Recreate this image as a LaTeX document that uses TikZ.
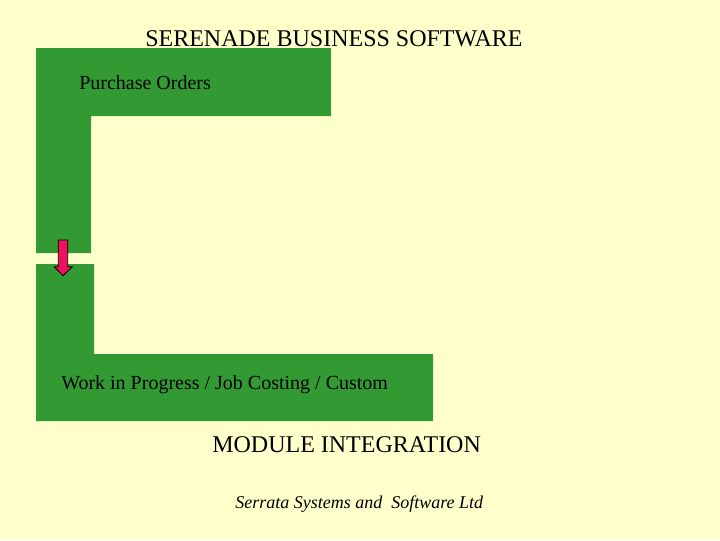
\documentclass[tikz,border=0pt]{standalone}
\usepackage{fontspec}
\setmainfont{Liberation Serif}
\definecolor{bgyellow}{RGB}{255,255,204}
\definecolor{leafgreen}{RGB}{51,153,51}
\definecolor{arrowred}{RGB}{240,16,96}
\tikzset{
  greenshape/.style={fill=leafgreen, draw=none},
  lbl/.style={anchor=base west, inner sep=0pt, text=black},
}
\begin{document}
\begin{tikzpicture}[x=0.75pt, y=-0.75pt]
\fill[bgyellow] (0,0) rectangle (720,540);
\useasboundingbox (0,0) rectangle (720,540);
% top L shape
\fill[greenshape] (36,48) -- (331,48) -- (331,116) -- (91,116) -- (91,253) -- (36,253) -- cycle;
% bottom L shape
\fill[greenshape] (36,264) -- (94,264) -- (94,354) -- (433,354) -- (433,421) -- (36,421) -- cycle;
% block arrow
\draw[fill=arrowred, draw=black, line width=0.6pt] (58.3,240) -- (67.7,240) -- (67.7,266.7) -- (72.3,266.7) -- (63,275.7) -- (54.3,266.7) -- (58.3,266.7) -- cycle;
\node[lbl, font=\fontsize{18}{21}\selectfont] (title) at (145,46) {SERENADE BUSINESS SOFTWARE};
\node[lbl, font=\fontsize{15}{18}\selectfont] (po) at (79,89) {Purchase Orders};
\node[lbl, font=\fontsize{15}{18}\selectfont] (wip) at (61,389) {Work in Progress / Job Costing / Custom};
\node[lbl, font=\fontsize{18}{21}\selectfont] (mi) at (212,452) {MODULE INTEGRATION};
\node[lbl, font=\itshape\fontsize{13.5}{16}\selectfont] (ss) at (235,508) {Serrata Systems and\ \ Software Ltd};
\end{tikzpicture}
\end{document}
